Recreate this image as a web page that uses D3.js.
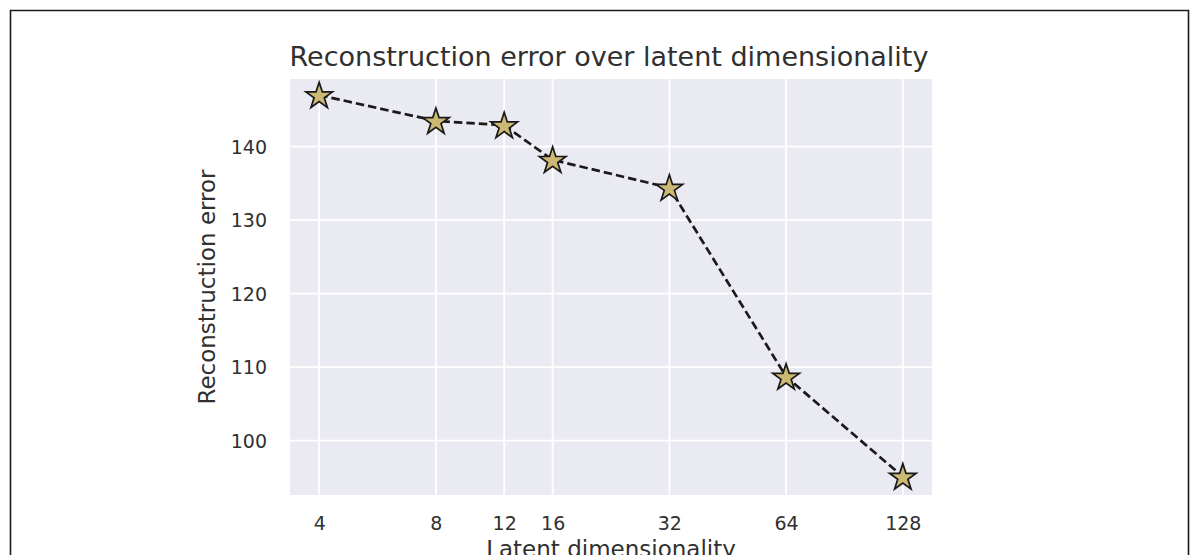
<!DOCTYPE html>
<html>
<head>
<meta charset="utf-8">
<script src="https://cdn.jsdelivr.net/npm/d3@7"></script>
<style>
  html, body { margin: 0; padding: 0; background: #ffffff; }
  svg { display: block; font-family: "DejaVu Sans", sans-serif; }
</style>
</head>
<body>
<svg id="chart" width="1196" height="555"></svg>
<script>
// ---- data ----
const latentDims = [4, 8, 12, 16, 32, 64, 128];
const reconError = [147.0, 143.5, 142.9, 138.2, 134.4, 108.7, 95.1];
const xTickValues = [4, 8, 12, 16, 32, 64, 128];
const yTickValues = [100, 110, 120, 130, 140];
const yLimits = [92.6, 149.2];
const titleText = "Reconstruction error over latent dimensionality";
const xLabelText = "Latent dimensionality";
const yLabelText = "Reconstruction error";

// ---- layout ----
const W = 1196, H = 555;
const plot = { left: 290, right: 932, top: 79, bottom: 495 };
const textColor = "#303030";

const svg = d3.select("#chart");

// outer frame
svg.append("path")
  .attr("d", `M10.5,${H + 5} L10.5,10.5 L1188.5,10.5 L1188.5,${H + 5}`)
  .attr("fill", "none")
  .attr("stroke", "#1a1a1a")
  .attr("stroke-width", 1.6);

// scales (log2 x with 5% margin in log space)
const lx0 = Math.log2(d3.min(latentDims)), lx1 = Math.log2(d3.max(latentDims));
const lpad = (lx1 - lx0) * 0.05;
const x = d3.scaleLog().base(2)
  .domain([Math.pow(2, lx0 - lpad), Math.pow(2, lx1 + lpad)])
  .range([plot.left, plot.right]);
const y = d3.scaleLinear().domain(yLimits).range([plot.bottom, plot.top]);

// background
svg.append("rect")
  .attr("x", plot.left).attr("y", plot.top)
  .attr("width", plot.right - plot.left).attr("height", plot.bottom - plot.top)
  .attr("fill", "#eaeaf2");

// grid
const grid = svg.append("g");
grid.selectAll("line.gx").data(xTickValues).enter().append("line")
  .attr("x1", d => x(d)).attr("x2", d => x(d))
  .attr("y1", plot.top).attr("y2", plot.bottom)
  .attr("stroke", "#ffffff").attr("stroke-width", 1.8);
grid.selectAll("line.gy").data(yTickValues).enter().append("line")
  .attr("y1", d => y(d)).attr("y2", d => y(d))
  .attr("x1", plot.left).attr("x2", plot.right)
  .attr("stroke", "#ffffff").attr("stroke-width", 1.8);

// axes (no tick marks, no domain)
const xAxis = d3.axisBottom(x).tickValues(xTickValues).tickFormat(d3.format("d")).tickSize(0).tickPadding(0);
const gx = svg.append("g").attr("transform", `translate(0,${plot.bottom})`).call(xAxis)
  .attr("font-size", 19).attr("font-family", "DejaVu Sans, sans-serif");
gx.select(".domain").remove();
gx.selectAll("text")
  .attr("y", 35).attr("dy", null)
  .attr("fill", textColor);

const yAxis = d3.axisLeft(y).tickValues(yTickValues).tickFormat(d3.format("d")).tickSize(0).tickPadding(0);
const gy = svg.append("g").attr("transform", `translate(${plot.left},0)`).call(yAxis)
  .attr("font-size", 19).attr("font-family", "DejaVu Sans, sans-serif");
gy.select(".domain").remove();
gy.selectAll("text")
  .attr("x", -23).attr("dy", "0.35em")
  .attr("fill", textColor);

// line
const line = d3.line()
  .x((d, i) => x(latentDims[i]))
  .y(d => y(d));
svg.append("path")
  .datum(reconError)
  .attr("d", line)
  .attr("fill", "none")
  .attr("stroke", "#1a1a1a")
  .attr("stroke-width", 2.7)
  .attr("stroke-dasharray", "8.5,4");

// star markers
function starPath(R) {
  const r = R * 0.381966;
  const pts = [];
  for (let k = 0; k < 10; k++) {
    const rad = k % 2 === 0 ? R : r;
    const a = -Math.PI / 2 + k * Math.PI / 5;
    pts.push([rad * Math.cos(a), rad * Math.sin(a)]);
  }
  return "M" + pts.map(p => p[0].toFixed(2) + "," + p[1].toFixed(2)).join("L") + "Z";
}
svg.append("g").selectAll("path").data(reconError).enter().append("path")
  .attr("d", starPath(14))
  .attr("transform", (d, i) => `translate(${x(latentDims[i])},${y(d) + 1})`)
  .attr("fill", "#ccb974")
  .attr("stroke", "#1a1a1a")
  .attr("stroke-width", 1.7)
  .attr("stroke-linejoin", "miter");

// title
svg.append("text")
  .attr("x", (plot.left + plot.right) / 2 - 2)
  .attr("y", 66)
  .attr("text-anchor", "middle")
  .attr("fill", textColor)
  .style("font-size", "27px")
  .text(titleText);

// x label
svg.append("text")
  .attr("x", (plot.left + plot.right) / 2)
  .attr("y", 557)
  .attr("text-anchor", "middle")
  .attr("fill", textColor)
  .style("font-size", "23px")
  .text(xLabelText);

// y label
svg.append("text")
  .attr("transform", `translate(215,${(plot.top + plot.bottom) / 2}) rotate(-90)`)
  .attr("text-anchor", "middle")
  .attr("fill", textColor)
  .style("font-size", "23px")
  .text(yLabelText);
</script>
</body>
</html>
